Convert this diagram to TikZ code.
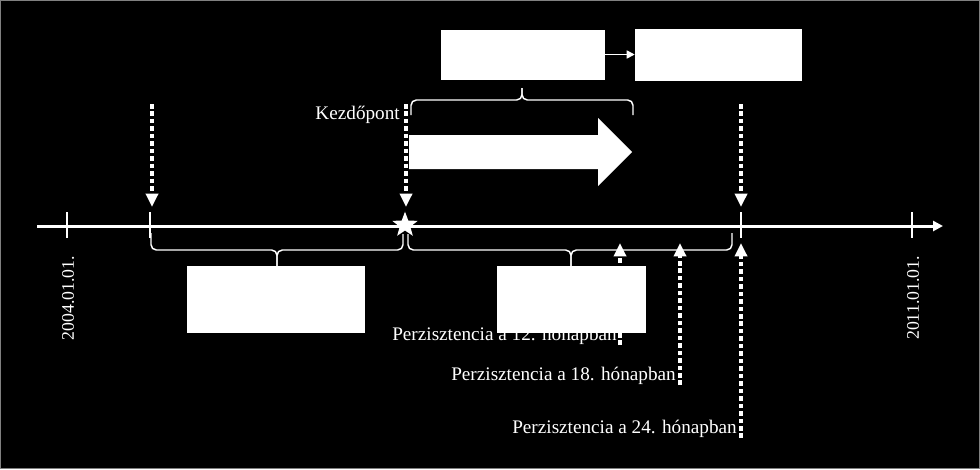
\documentclass[tikz,border=0pt]{standalone}
\usepackage{fontspec}
\setmainfont{Liberation Serif}
\usetikzlibrary{positioning,arrows.meta,shapes.geometric}

\begin{document}
\begin{tikzpicture}[x=0.75pt,y=-0.75pt,
    box/.style={draw=white,fill=white,inner sep=0pt},
    lbl/.style={text=white,inner sep=0pt,font=\fontsize{14.4pt}{16pt}\selectfont},
    datelbl/.style={lbl,rotate=90,font=\fontsize{13.3pt}{15pt}\selectfont},
    axis/.style={white,line width=2.25pt,-{Triangle[length=7.5pt,width=7.5pt]}},
    tick/.style={white,line width=1.5pt},
    dotarr/.style={white,line width=3pt,dash pattern=on 3.4pt off 2.2pt,
      -{Triangle[length=10pt,width=9pt]}},
    brc/.style={white,line width=1.1pt,rounded corners=4pt}]
  % background
  \useasboundingbox (0,0) rectangle (980,469);
  \fill[black] (0,0) rectangle (980,469);
  \draw[gray,line width=1.1pt] (0.75,0.75) rectangle (979.25,468.25);
  % time axis
  \coordinate (t0) at (37,226);
  \coordinate (t1) at (943,226);
  \draw[axis] (t0) -- (t1);
  \foreach \x in {67,150,741,912}
    \draw[tick] (\x,212) -- (\x,238);
  \node[datelbl] (d0) at (68,298) {2004.01.01.};
  \node[datelbl] (d1) at (913,298) {2011.01.01.};
  % starting point
  \node[star,star points=5,star point ratio=2.4,fill=white,minimum size=20pt,inner sep=0pt] (kp) at (405,225) {};
  % dotted arrows from above
  \coordinate (a1) at (152,104);
  \coordinate (a1e) at (152,207);
  \coordinate (a2) at (406,104);
  \coordinate (a2e) at (406,207);
  \coordinate (a3) at (741,104);
  \coordinate (a3e) at (741,207);
  \draw[dotarr] (a1) -- (a1e);
  \draw[dotarr] (a2) -- (a2e);
  \draw[dotarr] (a3) -- (a3e);
  \node[lbl,anchor=base east] (kezd) at (400,119) {Kezdőpont};
  % big arrow
  \fill[white] (409,135) -- (598,135) -- (598,118) -- (632,152) -- (598,186)
    -- (598,169) -- (409,169) -- cycle;
  % braces
  \draw[brc] (411,115) -- (411,100) -- (522,100) -- (522,88);
  \draw[brc] (633,115) -- (633,100) -- (522,100) -- (522,88);
  \draw[brc] (151,233) -- (151,250) -- (277,250) -- (277,266);
  \draw[brc] (403,234) -- (403,250) -- (277,250) -- (277,266);
  \draw[brc] (408,234) -- (408,250) -- (571,250) -- (571,266);
  \draw[brc] (732,233) -- (732,250) -- (571,250) -- (571,266);
  % persistence arrows from below
  \coordinate (p1) at (620,345);
  \coordinate (p1e) at (620,243);
  \coordinate (p2) at (680,385);
  \coordinate (p2e) at (680,243);
  \coordinate (p3) at (741,438);
  \coordinate (p3e) at (741,243);
  \draw[dotarr] (p1) -- (p1e);
  \draw[dotarr] (p2) -- (p2e);
  \draw[dotarr] (p3) -- (p3e);
  \node[lbl,anchor=base east] (l12) at (617,340) {Perzisztencia a 12. hónapban};
  \node[lbl,anchor=base east] (l18) at (676,380) {Perzisztencia a 18. hónapban};
  \node[lbl,anchor=base east] (l24) at (737,433) {Perzisztencia a 24. hónapban};
  % boxes
  \node[box,minimum width=122.25pt,minimum height=36.75pt] (b1) at (522.5,54.5) {};
  \node[box,minimum width=124.5pt,minimum height=38.25pt] (b2) at (718,54.5) {};
  \node[box,minimum width=132.75pt,minimum height=49.5pt] (b3) at (275.5,299) {};
  \node[box,minimum width=111pt,minimum height=49.5pt] (b4) at (571,299) {};
  \draw[white,line width=1.1pt,-{Triangle[length=6pt,width=6pt]}] (b1) -- (b2);
\end{tikzpicture}
\end{document}
